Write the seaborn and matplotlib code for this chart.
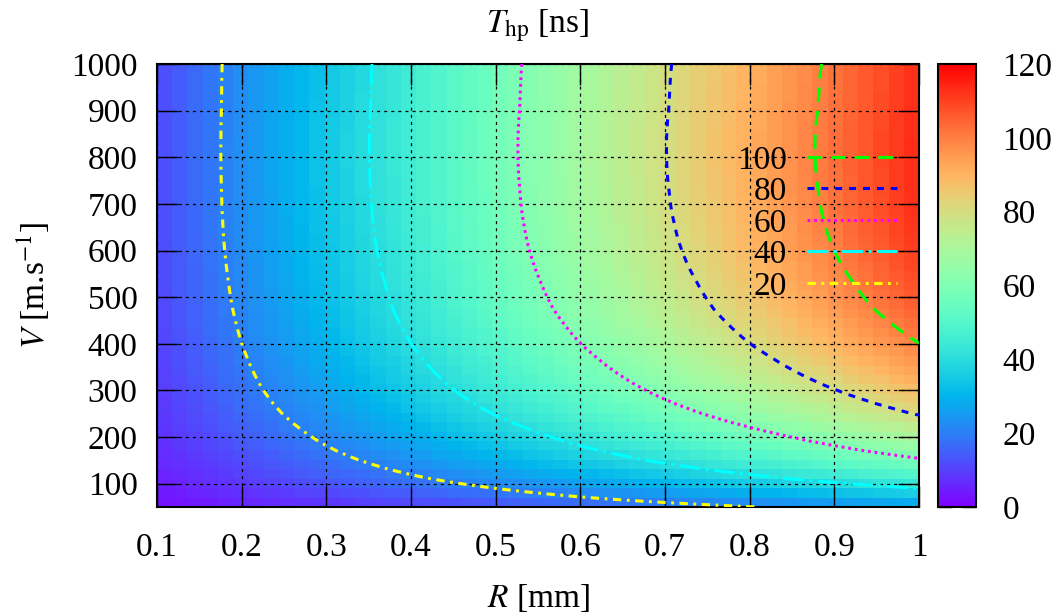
import numpy as np
import pandas as pd
import matplotlib
matplotlib.use("Agg")
import matplotlib.pyplot as plt
import seaborn as sns
from matplotlib.lines import Line2D

# ---------------- data ----------------
# grid nodes of the map
r_nodes = np.linspace(0.1, 1.0, 51)      # R [mm]
v_nodes = np.linspace(50, 1000, 48)      # V [m/s]

t_per_mm = [24.7, 32.8, 40.2, 47.3, 53.5, 59.2, 64.3, 68.9, 73.1, 77.2,
            81.0, 84.4, 87.5, 90.3, 92.8, 95.1, 97.2, 99.3, 101.1, 102.7,
            104.2, 105.6, 106.7, 107.7, 108.6, 109.5, 110.3, 111.0, 111.6, 112.1,
            112.5, 112.9, 113.2, 113.4, 113.6, 113.8, 113.9, 114.0, 114.0, 114.0,
            113.9, 113.8, 113.6, 113.5, 113.4, 113.3, 113.2, 113.0]

contour_levels = [20, 40, 60, 80, 100]
x_ticks = [0.1, 0.2, 0.3, 0.4, 0.5, 0.6, 0.7, 0.8, 0.9, 1.0]
x_ticklabels = ["0.1", "0.2", "0.3", "0.4", "0.5", "0.6", "0.7", "0.8", "0.9", "1"]
y_ticks = [100, 200, 300, 400, 500, 600, 700, 800, 900, 1000]
cb_ticks = [0, 20, 40, 60, 80, 100, 120]

# ---------------- style ----------------
sns.set_style("ticks")
plt.rcParams["font.family"] = ["Liberation Serif", "DejaVu Serif"]
plt.rcParams["mathtext.fontset"] = "stix"
plt.rcParams["lines.scale_dashes"] = False
plt.rcParams["text.color"] = "black"
plt.rcParams["axes.labelcolor"] = "black"
plt.rcParams["xtick.color"] = "black"
plt.rcParams["ytick.color"] = "black"
FS = 24

T_nodes = np.outer(t_per_mm, r_nodes)                      # (48, 51)
cells = 0.25 * (T_nodes[:-1, :-1] + T_nodes[1:, :-1] + T_nodes[:-1, 1:] + T_nodes[1:, 1:])
df = pd.DataFrame(cells)

W, H = 1056, 616
fig = plt.figure(figsize=(W / 100, H / 100), dpi=100)
ax = fig.add_axes([157 / W, 1 - 507 / H, 762 / W, 443 / H])
cax = fig.add_axes([937.5 / W, 1 - 507 / H, 38.5 / W, 443 / H])

sns.heatmap(df, ax=ax, cbar_ax=cax, cmap="rainbow", vmin=0, vmax=120,
            xticklabels=False, yticklabels=False)

nx, ny = len(r_nodes) - 1, len(v_nodes) - 1
ax.set_xlim(0, nx)
ax.set_ylim(0, ny)

def rx(r):
    return (np.asarray(r) - r_nodes[0]) / (r_nodes[-1] - r_nodes[0]) * nx

def vy(v):
    return (np.asarray(v) - v_nodes[0]) / (v_nodes[-1] - v_nodes[0]) * ny

# contours
LW = 2.2
level_styles = {
    20: dict(color="#ffff00", dashes=(6, 4, 2, 4)),
    40: dict(color="#00ffff", dashes=(15, 4, 2, 4)),
    60: dict(color="#ff00ff", dashes=(2.0, 2.8)),
    80: dict(color="#0000ff", dashes=(5, 5)),
    100: dict(color="#00ff00", dashes=(10.5, 6.5)),
}
xi = np.arange(nx + 1)
yi = np.arange(ny + 1)
cs = ax.contour(xi, yi, T_nodes, levels=contour_levels)
for lev, segs in zip(contour_levels, cs.allsegs):
    st = level_styles[lev]
    for seg in segs:
        ax.plot(seg[:, 0], seg[:, 1], color=st["color"], lw=LW,
                dashes=st["dashes"], zorder=4)
cs.remove()

# axes look
for s in ax.spines.values():
    s.set_visible(True)
    s.set_linewidth(1.5)
    s.set_color("black")
ax.set_xticks(rx(x_ticks))
ax.set_xticklabels(x_ticklabels)
ax.set_yticks(vy(y_ticks))
ax.set_yticklabels([str(v) for v in y_ticks], rotation=0)
ax.tick_params(axis="both", direction="in", length=15, width=1.0, top=True, right=True,
               labelsize=FS, colors="black")
ax.tick_params(axis="x", pad=18)
ax.tick_params(axis="y", pad=14)
ax.set_axisbelow(False)
ax.grid(True, color="black", linestyle=(0, (2.2, 2.9)), linewidth=0.9)

ax.set_title(r"$T_{\mathrm{hp}}$ [ns]", fontsize=FS, pad=23)
ax.set_xlabel(r"$R$ [mm]", fontsize=FS, labelpad=14)
ax.set_ylabel(r"$V$ [m.s$^{-1}$]", fontsize=FS, labelpad=14)

# legend
handles = [Line2D([], [], color=level_styles[l]["color"], lw=LW,
                  dashes=level_styles[l]["dashes"]) for l in contour_levels[::-1]]
labels = [str(l) for l in contour_levels[::-1]]
ax.legend(handles, labels, loc="upper right", bbox_to_anchor=(0.971, 0.817),
          bbox_transform=ax.transAxes, frameon=False, markerfirst=False,
          handlelength=2.7, handletextpad=0.6, labelspacing=0.03,
          borderpad=0, borderaxespad=0, fontsize=FS)

# colorbar
cb = ax.collections[0].colorbar
cb.set_ticks(cb_ticks)
cb.outline.set_linewidth(1.5)
cb.outline.set_edgecolor("black")
cax.tick_params(direction="in", length=10, width=1.0, left=True, right=True,
                labelleft=False, labelright=True, labelsize=FS, pad=19, colors="black")

fig.savefig("out.png", dpi=100)
